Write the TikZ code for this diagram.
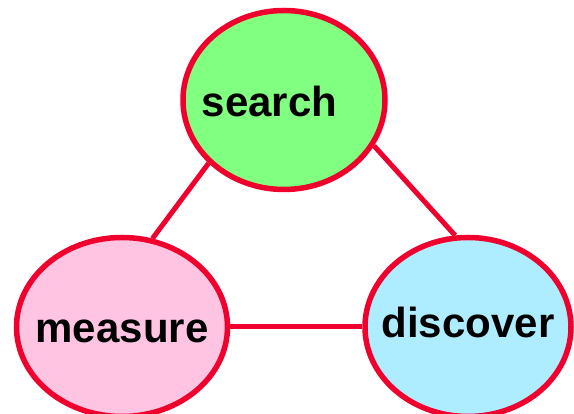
\documentclass[tikz,border=0pt]{standalone}
\usepackage{fontspec}
\setmainfont{Liberation Sans}
\usetikzlibrary{shapes.geometric}
\definecolor{ringred}{RGB}{240,0,44}
\definecolor{searchgreen}{RGB}{128,255,128}
\definecolor{measurepink}{RGB}{255,196,226}
\definecolor{discoverblue}{RGB}{174,236,255}
\tikzset{
	blob/.style={ellipse, draw=ringred, line width=5.5pt, inner sep=0pt, minimum width=202pt, minimum height=179pt},
	word/.style={font=\fontsize{42}{42}\selectfont\bfseries, text height=30pt, text depth=0pt, inner sep=0pt},
	link/.style={draw=ringred, line width=5pt}
}
\begin{document}
\begin{tikzpicture}[x=1pt, y=1pt]
			%%%%% START %%%%%
			
			\clip (0, 0) rectangle (574, 414);
			
			\node[blob, fill=searchgreen] (search) at (284, 314)
				[label={[word, xshift=-14.5pt, yshift=-2pt]center:search}] {};
			\node[blob, fill=measurepink, minimum width=211pt] (measure) at (122, 87)
				[label={[word, yshift=-1pt]center:measure}] {};
			\node[blob, fill=discoverblue, minimum width=206pt] (discover) at (468, 87)
				[label={[word, yshift=4pt]center:discover}] {};
			
			\draw[link] (search.220) -- (measure.71);
			\draw[link] (search.333) -- (discover.98);
			\draw[link] (measure.east) -- (discover.west);
			
			%%%%% END %%%%%
		\end{tikzpicture}
\end{document}
